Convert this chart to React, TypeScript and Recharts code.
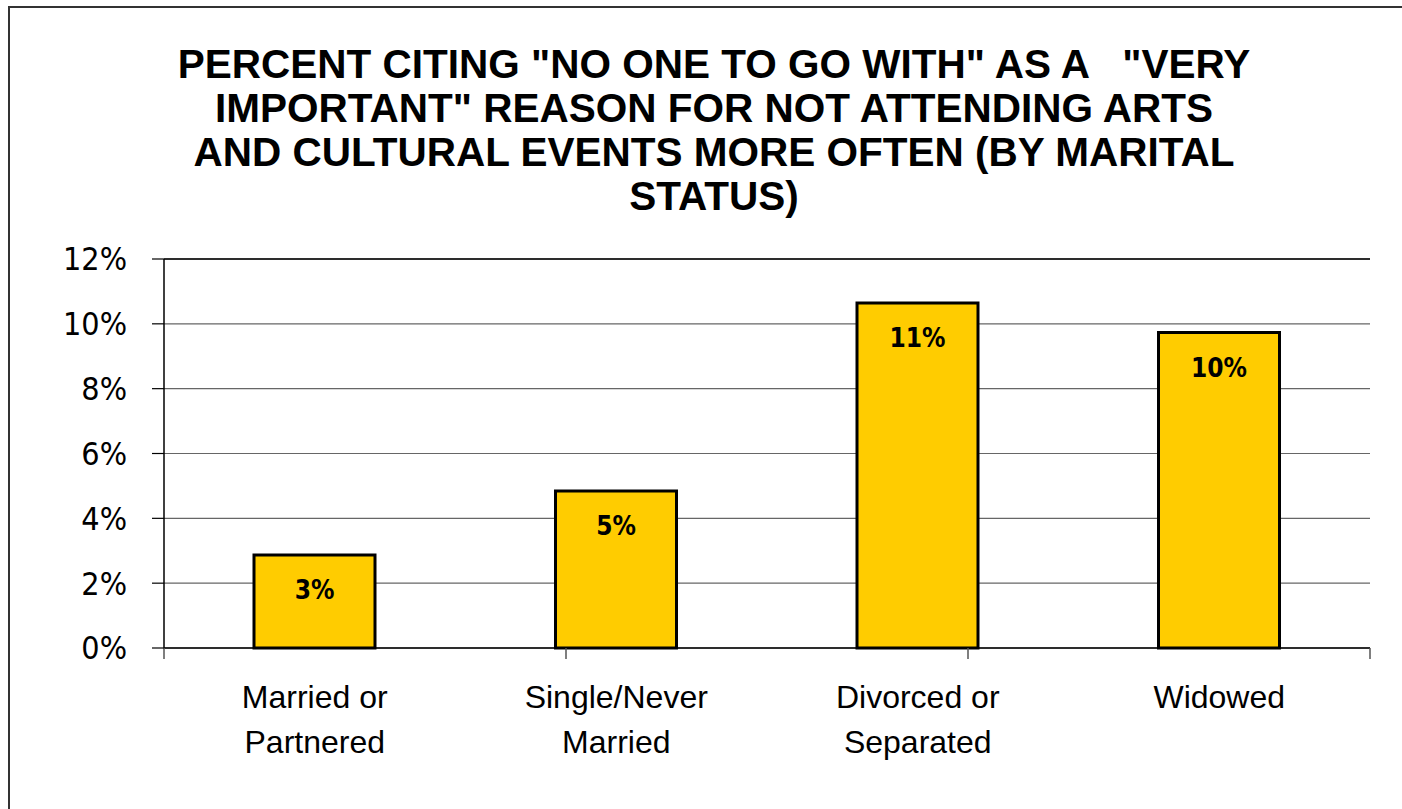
import React from 'react';
import {
  BarChart,
  Bar,
  XAxis,
  YAxis,
  CartesianGrid,
  ReferenceLine,
  LabelList,
} from 'recharts';

// Marital status groups and share citing "no one to go with"
const categories = ['Married or\nPartnered', 'Single/Never\nMarried', 'Divorced or\nSeparated', 'Widowed'];
const shares = [0.0287, 0.0484, 0.1064, 0.0973];
const yTicks = [0, 0.02, 0.04, 0.06, 0.08, 0.1, 0.12];
const edgeTicks = [0, 1, 2, 3, 4];

const titleLines = [
  'PERCENT CITING "NO ONE TO GO WITH" AS A   "VERY',
  'IMPORTANT" REASON FOR NOT ATTENDING ARTS',
  'AND CULTURAL EVENTS MORE OFTEN (BY MARITAL',
  'STATUS)',
];

const data = categories.map((name, i) => ({ name, value: shares[i] }));

const pct = (v: number) => `${Math.round(v * 100)}%`;

function CategoryTick(props: any) {
  const { x, y, payload } = props;
  const lines = String(payload.value).split('\n');
  return (
    <g>
      {lines.map((line, i) => (
        <text
          key={i}
          x={x}
          y={y + 29 + i * 45}
          textAnchor="middle"
          dominantBaseline="central"
          fontFamily="'Liberation Sans', Arial, sans-serif"
          fontSize={32}
          fill="#000"
        >
          {line}
        </text>
      ))}
    </g>
  );
}

function BarValue(props: any) {
  const { x, y, width, value } = props;
  return (
    <text
      x={x + width / 2}
      y={y + 35}
      textAnchor="middle"
      dominantBaseline="central"
      fontFamily="'DejaVu Sans Condensed', 'DejaVu Sans', sans-serif"
      fontWeight="bold"
      fontSize={26}
      fill="#000"
    >
      {pct(value)}
    </text>
  );
}

const NoLabel = () => <g />;

export default function App() {
  return (
    <div
      style={{
        position: 'fixed',
        left: 0,
        top: 0,
        width: 1402,
        height: 809,
        overflow: 'hidden',
        background: '#fff',
      }}
    >
      {/* outer chart frame, runs off the right and bottom edges */}
      <div
        style={{
          position: 'absolute',
          left: 8,
          top: 6,
          width: 1440,
          height: 840,
          border: '2px solid #333',
          boxSizing: 'border-box',
        }}
      />
      <div
        style={{
          position: 'absolute',
          left: 0,
          top: 42,
          width: 1428,
          textAlign: 'center',
          fontFamily: "'Liberation Sans', Arial, sans-serif",
          fontWeight: 'bold',
          fontSize: 40.5,
          lineHeight: '44px',
          whiteSpace: 'pre',
          color: '#000',
        }}
      >
        {titleLines.map((t, i) => (
          <div key={i}>{t}</div>
        ))}
      </div>
      <div style={{ position: 'absolute', left: 0, top: 0 }}>
        <BarChart
          width={1402}
          height={809}
          data={data}
          margin={{ top: 259, right: 32, bottom: 49, left: 104 }}
        >
          <CartesianGrid vertical={false} stroke="#666" strokeWidth={1.2} />
          {/* boundary ticks between categories, drawn right under the plot */}
          <XAxis
            xAxisId="a-edge"
            type="number"
            domain={[0, 4]}
            ticks={edgeTicks}
            tick={<NoLabel />}
            tickSize={11}
            height={12}
            tickLine={{ stroke: '#555', strokeWidth: 1.5 }}
            axisLine={{ stroke: '#000', strokeWidth: 1.5 }}
          />
          <XAxis
            xAxisId="b-cat"
            dataKey="name"
            axisLine={false}
            tickLine={false}
            tick={<CategoryTick />}
            height={100}
            interval={0}
          />
          <YAxis
            domain={[0, 0.12]}
            ticks={yTicks}
            tickFormatter={pct}
            width={60}
            tickSize={12}
            tickMargin={25}
            axisLine={{ stroke: '#000', strokeWidth: 1.5 }}
            tickLine={{ stroke: '#000', strokeWidth: 1.2 }}
            tick={{
              fill: '#000',
              fontSize: 32,
              fontFamily: "'DejaVu Sans Condensed', 'DejaVu Sans', sans-serif",
            }}
          />
          <ReferenceLine y={0.12} stroke="#000" strokeWidth={1.5} />
          <ReferenceLine xAxisId="a-edge" x={4} stroke="#888" strokeWidth={2} />
          <Bar
            xAxisId="b-cat"
            dataKey="value"
            fill="#FFCC00"
            stroke="#000"
            strokeWidth={3}
            barSize={121}
            isAnimationActive={false}
          >
            <LabelList dataKey="value" content={<BarValue />} />
          </Bar>
        </BarChart>
      </div>
    </div>
  );
}
